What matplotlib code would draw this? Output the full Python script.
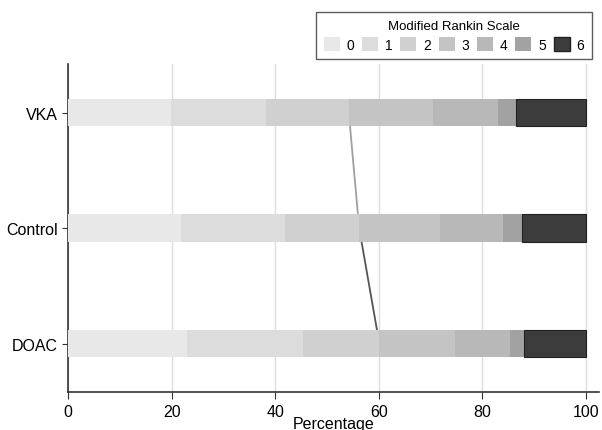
import numpy as np
import matplotlib
matplotlib.use("Agg")
import matplotlib.pyplot as plt
from matplotlib.patches import Patch

plt.rcParams['font.family'] = ['Liberation Sans', 'DejaVu Sans']

groups = ["VKA", "Control", "DOAC"]
levels = ["0", "1", "2", "3", "4", "5", "6"]
# cumulative boundaries (percent)
vka_cum = [19.8, 38.3, 54.2, 70.4, 83.0, 86.4, 100.0]
control_cum = [21.9, 41.9, 56.2, 71.8, 84.0, 87.6, 100.0]
doac_cum = [22.9, 45.4, 60.1, 74.7, 85.3, 88.0, 100.0]
colors = ["#e8e8e8", "#dcdcdc", "#d0d0d0", "#c4c4c4", "#b8b8b8", "#a2a2a2", "#3c3c3c"]

cums = np.array([vka_cum, control_cum, doac_cum])
shares = np.diff(np.hstack((np.zeros((3, 1)), cums)), axis=1)

fig = plt.figure(figsize=(6.02, 4.31), dpi=100)
ax = fig.add_axes([0.113, 0.088, 0.882, 0.761])

y = np.arange(len(groups))
left = np.zeros(len(groups))
for j in range(len(levels)):
    ec = "#222222" if j == 6 else "none"
    ax.barh(y, shares[:, j], left=left, height=0.24, color=colors[j],
            edgecolor=ec, linewidth=0.8, zorder=3)
    left += shares[:, j]

# line linking mRS 0-2 boundaries
ax.plot(cums[:2, 2], y[:2], color="#a0a0a0", linewidth=1.3, zorder=2)
ax.plot(cums[1:, 2], y[1:], color="#555555", linewidth=1.3, zorder=2)

ax.set_xlim(0, 102.5)
ax.set_ylim(2.42, -0.42)
ax.set_yticks(y)
ax.set_yticklabels(groups, fontsize=11.5)
ax.set_xticks([0, 20, 40, 60, 80, 100])
ax.tick_params(axis="x", labelsize=11.5, length=5, color="#333333")
ax.tick_params(axis="y", length=4, color="#333333")
ax.set_xlabel("Percentage", fontsize=11.5, labelpad=-2)
ax.grid(axis="x", color="#dddddd", linewidth=1, zorder=0)
ax.set_axisbelow(True)
for s in ["top", "right"]:
    ax.spines[s].set_visible(False)
for s in ["left", "bottom"]:
    ax.spines[s].set_color("#333333")
    ax.spines[s].set_linewidth(1.2)

handles = [Patch(facecolor=colors[j], edgecolor="#222222" if j == 6 else "none")
           for j in range(len(levels))]
leg = fig.legend(handles, levels, ncol=7, title="Modified Rankin Scale",
                 loc="upper right", bbox_to_anchor=(0.995, 0.985),
                 fontsize=10, title_fontsize=9.5, frameon=True, fancybox=False,
                 edgecolor="#333333", handlelength=1.15, handleheight=1.15,
                 handletextpad=0.5, columnspacing=0.55, borderpad=0.55,
                 labelspacing=0.35)
leg.get_frame().set_linewidth(1.0)

fig.savefig("out.png", dpi=100, facecolor="white")
